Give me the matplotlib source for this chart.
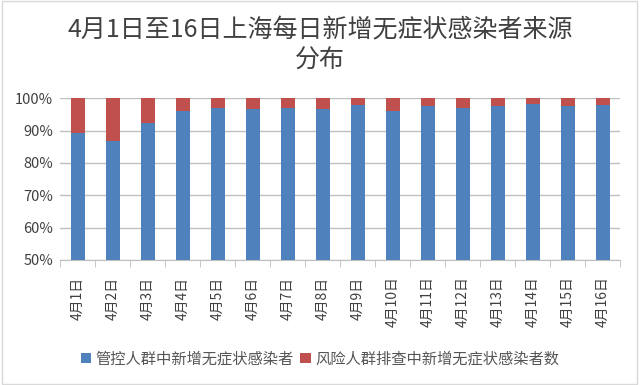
import matplotlib.pyplot as plt
import numpy as np

plt.rcParams['font.family'] = ['Noto Sans CJK SC', 'DejaVu Sans']

# 数据（从图中估读，单位：%）
dates = ["4月1日", "4月2日", "4月3日", "4月4日", "4月5日", "4月6日", "4月7日", "4月8日",
         "4月9日", "4月10日", "4月11日", "4月12日", "4月13日", "4月14日", "4月15日", "4月16日"]
controlled = [89.1, 86.8, 92.4, 96.1, 97.1, 96.7, 97.1, 96.5,
              97.8, 96.1, 97.5, 97.1, 97.5, 98.1, 97.5, 98.0]
screening = [100 - v for v in controlled]

blue = "#4F81BD"
red = "#C0504D"

fig = plt.figure(figsize=(6.4, 3.85), dpi=100)
ax = fig.add_axes([0.094, 0.325, 0.875, 0.42])

x = np.arange(len(dates))
ax.bar(x, controlled, width=0.4, color=blue, label="管控人群中新增无症状感染者", zorder=3)
ax.bar(x, screening, width=0.4, bottom=controlled, color=red,
       label="风险人群排查中新增无症状感染者数", zorder=3)

ax.set_ylim(50, 100)
ax.set_xlim(-0.5, len(dates) - 0.5)
ax.set_yticks(range(50, 101, 10))
ax.set_yticklabels([f"{v}%" for v in range(50, 101, 10)], fontsize=10.5, color="#404040")
ax.yaxis.grid(True, color="#BFBFBF", linewidth=1, zorder=0)
ax.tick_params(axis='y', length=0, pad=5)

ax.set_xticks(x)
ax.set_xticklabels(dates, rotation=90, fontsize=10, color="#404040")
ax.set_xticks(np.arange(-0.5, len(dates), 1), minor=True)
ax.tick_params(axis='x', which='major', length=0, pad=12)
ax.tick_params(axis='x', which='minor', length=5, color="#BFBFBF", direction='out')

for s in ['top', 'right', 'left']:
    ax.spines[s].set_visible(False)
ax.spines['bottom'].set_color("#BFBFBF")

fig.text(0.5, 0.92, "4月1日至16日上海每日新增无症状感染者来源", ha='center', va='center',
         fontsize=18, color="#404040")
fig.text(0.5, 0.842, "分布", ha='center', va='center', fontsize=18, color="#404040")

fig.legend(loc='center', bbox_to_anchor=(0.5, 0.068), ncol=2, frameon=False,
           fontsize=11, handlelength=0.7, handleheight=0.7, handletextpad=0.3,
           columnspacing=0.4, labelcolor="#555555")

# 外框
fig.patches.append(plt.Rectangle((0.003, 0.003), 0.992, 0.994, transform=fig.transFigure,
                                 fill=False, edgecolor="#D9D9D9", linewidth=1))

fig.savefig("out.png", dpi=100)
